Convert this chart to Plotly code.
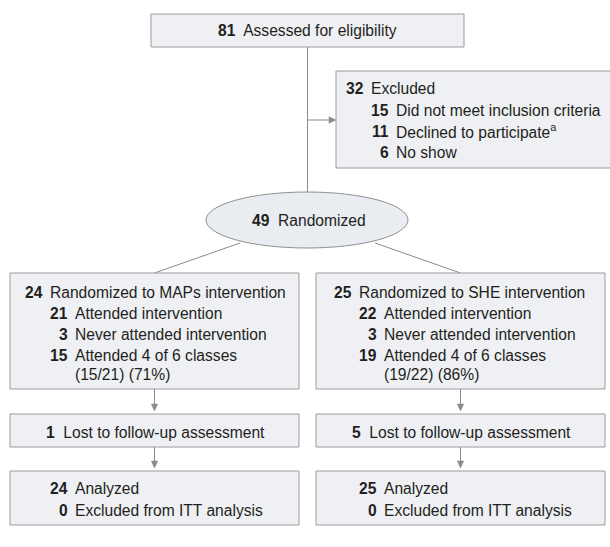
import plotly.graph_objects as go

# ---------------- data ----------------
assessed = 81
excluded_total = 32
excluded_counts = [15, 11, 6]
excluded_labels = ["Did not meet inclusion criteria", "Declined to participate<sup>a</sup>", "No show"]
randomized = 49
arm_names = ["MAPs", "SHE"]
arm_n = [24, 25]
attended = [21, 22]
never_attended = [3, 3]
attended_4of6 = [15, 19]
lost_followup = [1, 5]
analyzed = [24, 25]
excluded_itt = [0, 0]

# ---------------- layout / style ----------------
W, H = 610, 547
FONT = "Liberation Sans, Arial, sans-serif"
FS = 15.6
TXT = "#231f20"
FILL = "#eef0f3"
BORDER = "#9b9b9b"
LINE = "#8a8a8a"

top_box = dict(x0=151, x1=464, y0=14, y1=47)
excl_box = dict(x0=336, x1=612, y0=71, y1=168)
ellipse = dict(x0=206, x1=408, y0=192, y1=248)
arm_x0 = [10, 316]
arm_x1 = [299, 605]
arm_box_y = (273, 389)
lost_box_y = (414, 447)
anal_box_y = (471, 525)
arm_num1_right = [43, 352]   # right edge of first-level numbers
GAP = 7
SUB = 25
arm_line_y = [292, 313, 334, 355, 374]

shapes = []
annotations = []


def rect(x0, x1, y0, y1):
    shapes.append(dict(type="rect", xref="x", yref="y", x0=x0, x1=x1, y0=y0, y1=y1,
                       fillcolor=FILL, line=dict(color=BORDER, width=1), layer="below"))


def line(x0, y0, x1, y1):
    shapes.append(dict(type="line", xref="x", yref="y", x0=x0, y0=y0, x1=x1, y1=y1,
                       line=dict(color=LINE, width=1), layer="below"))


def arrow(x0, y0, x1, y1, head=7, half=3.2):
    # shaft
    if x0 == x1:  # vertical, pointing down
        line(x0, y0, x1, y1 - head)
        path = f"M {x1} {y1} L {x1 - half} {y1 - head} L {x1 + half} {y1 - head} Z"
    else:  # horizontal, pointing right
        line(x0, y0, x1 - head, y1)
        path = f"M {x1} {y1} L {x1 - head} {y1 - half} L {x1 - head} {y1 + half} Z"
    shapes.append(dict(type="path", xref="x", yref="y", path=path,
                       fillcolor=LINE, line=dict(color=LINE, width=0.5)))


def text(x, y, s, anchor="left"):
    annotations.append(dict(x=x, y=y, xref="x", yref="y", text=s, showarrow=False,
                            xanchor=anchor, yanchor="middle", borderpad=0, borderwidth=0,
                            font=dict(family=FONT, size=FS, color=TXT)))


def item(xr, y, num, label):
    text(xr, y, f"<b>{num}</b>", anchor="right")
    text(xr + GAP, y, label)


# top box
rect(**top_box)
cx = (top_box["x0"] + top_box["x1"]) / 2
text(cx, 30, f"<b>{assessed}</b>  Assessed for eligibility", anchor="center")

# vertical connector and arrow to excluded
line(cx, top_box["y1"], cx, ellipse["y0"])
arrow(cx, 120, excl_box["x0"], 120)

# excluded box
rect(**excl_box)
ex_r = 364
item(ex_r, 88, excluded_total, "Excluded")
for i, (c, l) in enumerate(zip(excluded_counts, excluded_labels)):
    item(ex_r + SUB, 110 + i * 21, c, l)

# ellipse
shapes.append(dict(type="circle", xref="x", yref="y", **ellipse,
                   fillcolor="#e9ecf0", line=dict(color="#8f8f8f", width=1), layer="below"))
text(309, 220, f"<b>{randomized}</b>  Randomized", anchor="center")

for k in range(2):
    x0, x1 = arm_x0[k], arm_x1[k]
    xc = (x0 + x1) / 2
    # diagonal from ellipse to arm box
    sx = 240 if k == 0 else 375
    line(sx, 243, xc, arm_box_y[0])
    # arm box
    rect(x0, x1, *arm_box_y)
    r1 = arm_num1_right[k]
    r2 = r1 + SUB
    item(r1, arm_line_y[0], arm_n[k], f"Randomized to {arm_names[k]} intervention")
    item(r2, arm_line_y[1], attended[k], "Attended intervention")
    item(r2, arm_line_y[2], never_attended[k], "Never attended intervention")
    item(r2, arm_line_y[3], attended_4of6[k], "Attended 4 of 6 classes")
    pct = round(attended_4of6[k] / attended[k] * 100)
    text(r2 + GAP, arm_line_y[4], f"({attended_4of6[k]}/{attended[k]}) ({pct}%)")
    # arrow to lost box
    arrow(xc, arm_box_y[1], xc, lost_box_y[0] - 3)
    rect(x0, x1, *lost_box_y)
    text(xc + 1, 432, f"<b>{lost_followup[k]}</b>  Lost to follow-up assessment", anchor="center")
    arrow(xc, lost_box_y[1], xc, anal_box_y[0] - 3)
    rect(x0, x1, *anal_box_y)
    item(r2, 488, analyzed[k], "Analyzed")
    item(r2, 510, excluded_itt[k], "Excluded from ITT analysis")

fig = go.Figure()
fig.update_layout(
    width=W, height=H, autosize=False,
    margin=dict(l=0, r=0, t=0, b=0),
    paper_bgcolor="white", plot_bgcolor="white",
    xaxis=dict(range=[0, W], visible=False, fixedrange=True),
    yaxis=dict(range=[H, 0], visible=False, fixedrange=True),
    shapes=shapes, annotations=annotations, showlegend=False,
)
fig.write_html("out.html", config={"displayModeBar": False},
               post_script="document.body.style.margin='0';document.body.style.overflow='hidden';")
